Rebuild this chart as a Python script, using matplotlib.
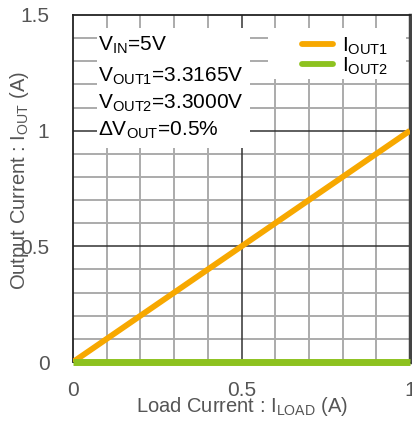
import matplotlib
matplotlib.use("Agg")
import matplotlib.pyplot as plt
from matplotlib.patches import Rectangle

plt.rcParams['font.family'] = ['Liberation Sans', 'DejaVu Sans']
plt.rcParams['mathtext.fontset'] = 'custom'
plt.rcParams['mathtext.rm'] = 'Liberation Sans'
plt.rcParams['mathtext.it'] = 'Liberation Sans'

load_current = [0.0, 1.0]
iout1 = [0.0, 1.0]
iout2 = [0.0, 0.0]
xticks = [0, 0.5, 1]
xticklabels = ['0', '0.5', '1']
yticks = [0, 0.5, 1, 1.5]
yticklabels = ['0', '0.5', '1', '1.5']
notes = [r'V$_{\mathrm{IN}}$=5V', r'V$_{\mathrm{OUT1}}$=3.3165V',
         r'V$_{\mathrm{OUT2}}$=3.3000V', r'ΔV$_{\mathrm{OUT}}$=0.5%']

W, H = 412, 422
fig = plt.figure(figsize=(W/100, H/100), dpi=100)
ax = fig.add_axes([73/W, 60/H, 337/W, 347/H])
ax.set_xlim(0, 1)
ax.set_ylim(0, 1.5)

grid_c = '#ababab'
for v in [i/10 for i in range(1, 10)]:
    if abs(v-0.5) > 1e-9:
        ax.axvline(v, color=grid_c, lw=1.4, zorder=1)
for v in [i/10 for i in range(1, 15)]:
    if abs(v-0.5) > 1e-9 and abs(v-1.0) > 1e-9:
        ax.axhline(v, color=grid_c, lw=1.4, zorder=1)
ax.axvline(0.5, color='#333333', lw=1.1, zorder=1.1)
ax.axhline(0.5, color='#333333', lw=1.1, zorder=1.1)
ax.axhline(1.0, color='#333333', lw=1.1, zorder=1.1)

# white boxes behind annotations and legend
ax.add_patch(Rectangle((0.071, 0.925), 0.454, 0.52, facecolor='white', edgecolor='none', zorder=2))
ax.add_patch(Rectangle((0.579, 1.225), 0.409, 0.22, facecolor='white', edgecolor='none', zorder=2))

ax.plot(load_current, iout1, color='#F7A800', lw=4.2, solid_capstyle='butt', zorder=4)
ax.plot(load_current, iout2, color='#8DC21F', lw=5, solid_capstyle='butt', zorder=4, clip_on=False)

fs = 15
ys = [1.37, 1.235, 1.12, 1.003]
for t, y in zip(notes, ys):
    ax.text(0.073, y, t, fontsize=fs, color='black', va='center', ha='left', zorder=3)

# legend
lx0, lx1 = 0.68, 0.772
for (y, c, lab) in [(1.376, '#F7A800', r'I$_{\mathrm{OUT1}}$'), (1.289, '#8DC21F', r'I$_{\mathrm{OUT2}}$')]:
    ax.plot([lx0, lx1], [y, y], color=c, lw=4.2, solid_capstyle='round', zorder=3)
    ax.text(0.797, y - 0.012, lab, fontsize=fs, color='black', va='center', ha='left', zorder=3)

ax.set_xticks(xticks)
ax.set_xticklabels(xticklabels)
ax.set_yticks(yticks)
ax.set_yticklabels(yticklabels)
ax.tick_params(length=0, labelsize=15, labelcolor='#555555')
ax.tick_params(axis='x', pad=14)
ax.tick_params(axis='y', pad=17)

for s in ['left', 'top']:
    ax.spines[s].set_color('#222222')
    ax.spines[s].set_linewidth(1.3)
ax.spines['right'].set_color('#444444')
ax.spines['right'].set_linewidth(2.5)
ax.spines['bottom'].set_color('#222222')

fig.text(242/W, 1 - 407/H, r'Load Current : I$_{\mathrm{LOAD}}$ (A)', fontsize=14.5,
         color='#555555', ha='center', va='center')
fig.text(20/W, 1 - 180/H, r'Output Current : I$_{\mathrm{OUT}}$ (A)', fontsize=14.5,
         color='#555555', ha='center', va='center', rotation=90)

fig.savefig('out.png', dpi=100)
